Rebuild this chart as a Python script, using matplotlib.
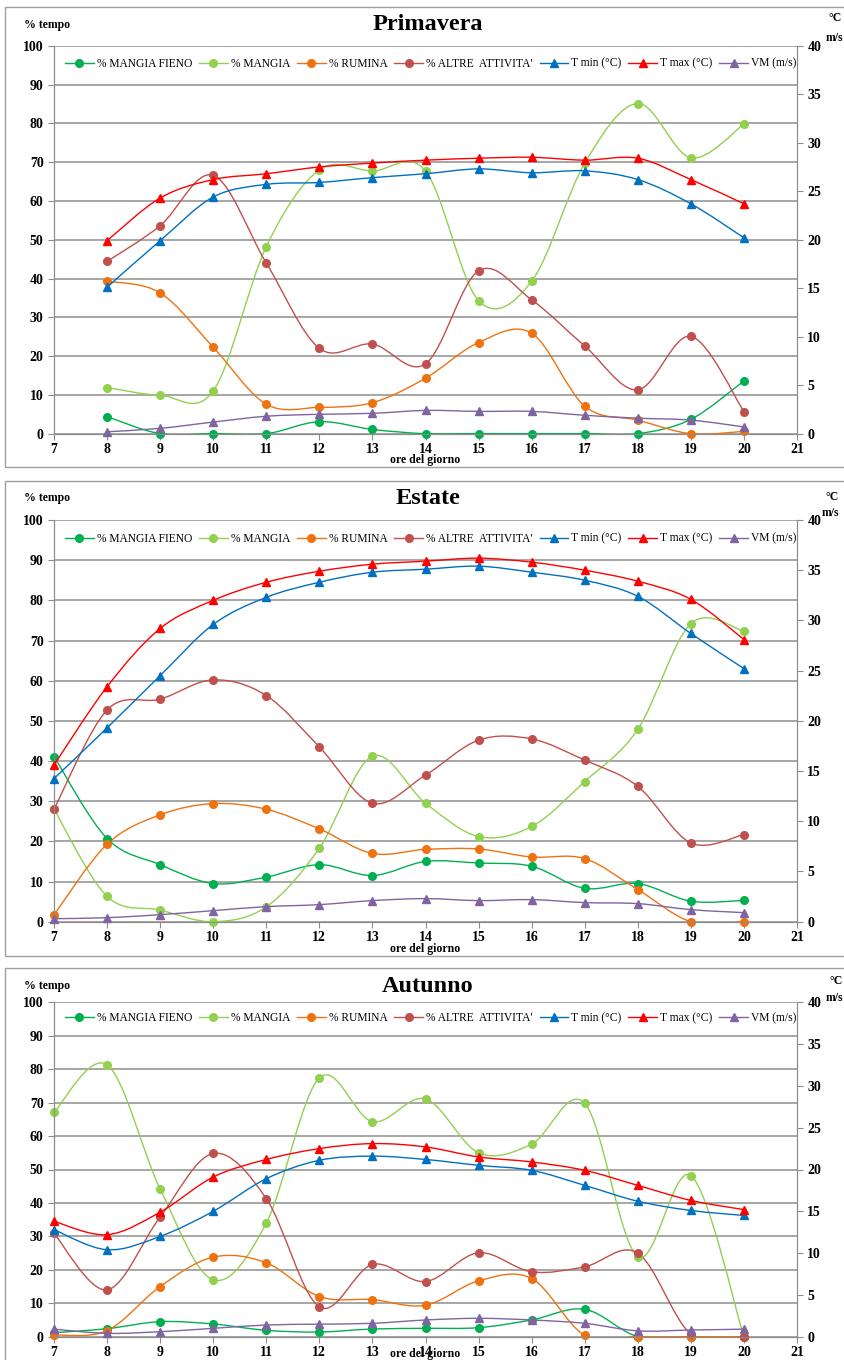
import matplotlib
matplotlib.use("Agg")
import matplotlib.pyplot as plt
from matplotlib.path import Path
from matplotlib.patches import PathPatch, Rectangle
from matplotlib.lines import Line2D
import numpy as np

plt.rcParams['font.family'] = ['Liberation Serif', 'DejaVu Serif']

# ---- data ----
labels = ["% MANGIA FIENO", "% MANGIA", "% RUMINA", "% ALTRE  ATTIVITA'",
          "T min (°C)", "T max (°C)", "VM (m/s)"]
colors = ["#00B050", "#92D050", "#EE7310", "#C0504D", "#0070C0", "#FF0000", "#8064A2"]

hours_spring = list(range(8, 21))
spring_fieno = [4.4, 0, 0, 0, 3.1, 1.1, 0, 0, 0, 0, 0, 3.7, 13.6]
spring_mangia = [11.9, 9.9, 11.0, 48.2, 68.0, 67.7, 67.7, 34.3, 39.3, 69.7, 85.1, 71.1, 79.8]
spring_rumina = [39.3, 36.3, 22.3, 7.6, 6.8, 8.0, 14.3, 23.5, 25.9, 7.1, 3.5, 0, 0.6]
spring_altre = [44.4, 53.6, 66.6, 44.0, 22.0, 23.1, 18.0, 42.0, 34.5, 22.6, 11.3, 25.1, 5.7]
spring_tmin = [15.1, 19.9, 24.4, 25.7, 25.9, 26.4, 26.8, 27.3, 26.9, 27.1, 26.2, 23.7, 20.2]
spring_tmax = [19.9, 24.3, 26.2, 26.8, 27.5, 27.9, 28.2, 28.4, 28.5, 28.2, 28.4, 26.2, 23.7]
spring_vm = [0.2, 0.55, 1.2, 1.8, 2.0, 2.1, 2.4, 2.3, 2.3, 1.9, 1.6, 1.4, 0.7]

hours_summer = list(range(7, 21))
summer_fieno = [41.1, 20.7, 14.2, 9.5, 11.1, 14.2, 11.5, 15.0, 14.6, 13.8, 8.3, 9.5, 5.1, 5.3]
summer_mangia = [28.0, 6.3, 2.9, 0, 3.7, 18.3, 41.2, 29.5, 21.2, 23.7, 34.9, 47.9, 74.2, 72.3]
summer_rumina = [1.7, 19.3, 26.6, 29.4, 28.0, 23.1, 17.0, 18.0, 18.1, 16.1, 15.7, 8.0, 0, 0]
summer_altre = [28.0, 52.7, 55.4, 60.2, 56.3, 43.5, 29.5, 36.5, 45.2, 45.5, 40.2, 33.7, 19.6, 21.7]
summer_tmin = [14.25, 19.3, 24.5, 29.6, 32.3, 33.8, 34.8, 35.1, 35.4, 34.8, 34.0, 32.4, 28.7, 25.2]
summer_tmax = [15.6, 23.4, 29.2, 32.0, 33.8, 34.9, 35.6, 35.9, 36.2, 35.8, 35.0, 33.9, 32.1, 28.1]
summer_vm = [0.3, 0.4, 0.7, 1.1, 1.5, 1.7, 2.1, 2.3, 2.1, 2.2, 1.9, 1.8, 1.2, 0.9]

hours_autumn = list(range(7, 21))
autumn_fieno = [1.2, 2.4, 4.5, 3.8, 1.9, 1.4, 2.3, 2.5, 2.7, 5.0, 8.2, 0, 0, 0]
autumn_mangia = [67.1, 81.3, 44.2, 17.0, 34.0, 77.4, 64.3, 71.1, 55.0, 57.6, 69.8, 23.9, 48.2, 0]
autumn_rumina = [0.5, 1.8, 15.0, 23.8, 22.1, 12.0, 11.1, 9.4, 16.7, 17.4, 0.4, 0, 0, 0]
autumn_altre = [30.9, 14.0, 35.8, 54.8, 41.3, 8.9, 21.6, 16.5, 25.1, 19.4, 20.9, 25.0, 0.8, 0]
autumn_tmin = [12.8, 10.4, 12.0, 15.0, 18.9, 21.1, 21.6, 21.2, 20.5, 19.9, 18.1, 16.2, 15.1, 14.5]
autumn_tmax = [13.8, 12.2, 14.9, 19.1, 21.2, 22.5, 23.1, 22.7, 21.5, 20.9, 19.9, 18.1, 16.3, 15.2]
autumn_vm = [0.9, 0.4, 0.6, 1.0, 1.4, 1.5, 1.6, 2.0, 2.2, 2.0, 1.6, 0.7, 0.8, 0.9]

W, H = 845, 1360


def fx(x):
    return x / W


def fy(y):
    return 1 - y / H


def smooth_path(xs, ys):
    # Excel style smoothed line as cubic bezier segments
    n = len(xs)
    verts = [(xs[0], ys[0])]
    codes = [Path.MOVETO]
    for i in range(n - 1):
        x0, y0 = xs[max(i - 1, 0)], ys[max(i - 1, 0)]
        x1, y1 = xs[i], ys[i]
        x2, y2 = xs[i + 1], ys[i + 1]
        x3, y3 = xs[min(i + 2, n - 1)], ys[min(i + 2, n - 1)]
        verts += [(x1 + (x2 - x0) / 6, y1 + (y2 - y0) / 6),
                  (x2 - (x3 - x1) / 6, y2 - (y3 - y1) / 6),
                  (x2, y2)]
        codes += [Path.CURVE4] * 3
    return Path(verts, codes)


def series(ax, xs, ys, color, marker):
    ax.add_patch(PathPatch(smooth_path(xs, ys), fill=False, edgecolor=color, lw=1.0, zorder=3))
    ax.plot(xs, ys, linestyle='none', marker=marker, color=color, markersize=5.5, zorder=4,
            clip_on=False)


def panel(top, bottom, title, hours, pct, temps, box, title_y, unit_pos, xlab_y):
    ax = fig.add_axes([fx(54), fy(bottom), fx(797 - 54), (bottom - top) / H])
    ax2 = ax.twinx()
    ax.set_xlim(7, 21)
    ax.set_ylim(0, 100)
    ax2.set_ylim(0, 40)
    ax.set_xticks(range(7, 22))
    ax.set_yticks(range(0, 101, 10))
    ax2.set_yticks(range(0, 41, 5))
    ax.grid(axis='y', color='#a6a6a6', lw=1.4)
    ax.set_axisbelow(True)
    for a in (ax, ax2):
        for s in a.spines.values():
            s.set_color('#8c8c8c')
        a.spines['top'].set_visible(False)
        a.tick_params(colors='#8c8c8c', labelcolor='black', length=4, labelsize=10)
        for lab in a.get_xticklabels() + a.get_yticklabels():
            lab.set_fontweight('bold')
    ax.tick_params(axis='x', pad=3)

    for ys, c in zip(pct, colors[:4]):
        series(ax, hours, ys, c, 'o')
    for ys, c in zip(temps, colors[4:]):
        series(ax2, hours, ys, c, '^')

    handles = [Line2D([], [], color=c, lw=1.0, marker='o' if i < 4 else '^', markersize=5.5)
               for i, c in enumerate(colors)]
    ax2.legend(handles, labels, loc='center', bbox_to_anchor=(0.507, 1 - (64 - 46) / 388),
               ncol=7, frameon=False, fontsize=8.3, handlelength=2.5, handletextpad=0.25,
               columnspacing=0.6)

    fig.text(fx(428), fy(title_y), title, ha='center', va='center', fontsize=17.5, fontweight='bold')
    fig.text(fx(47), fy(title_y), "% tempo", ha='center', va='center', fontsize=8.5, fontweight='bold')
    fig.text(fx(unit_pos[0]), fy(unit_pos[1]), "°C", ha='left', va='center', fontsize=8.5, fontweight='bold')
    fig.text(fx(unit_pos[2]), fy(unit_pos[3]), "m/s", ha='left', va='center', fontsize=8.5, fontweight='bold')
    fig.text(fx(425), fy(xlab_y), "ore del giorno", ha='center', va='center', fontsize=8.5,
             fontweight='bold')
    fig.patches.append(Rectangle((fx(box[0]), fy(box[2])), fx(900 - box[0]), (box[2] - box[1]) / H,
                                 transform=fig.transFigure, fill=False, edgecolor='#a0a0a0', lw=1.0))


fig = plt.figure(figsize=(W / 100, H / 100), dpi=100)

panel(45.7, 433.7, "Primavera", hours_spring,
      [spring_fieno, spring_mangia, spring_rumina, spring_altre],
      [spring_tmin, spring_tmax, spring_vm], (5, 7, 467), 25, (829, 18, 826, 38), 460)
panel(520, 921.7, "Estate", hours_summer,
      [summer_fieno, summer_mangia, summer_rumina, summer_altre],
      [summer_tmin, summer_tmax, summer_vm], (5, 481, 956), 498, (826, 497, 822, 513), 949)
panel(1002.3, 1336.7, "Autunno", hours_autumn,
      [autumn_fieno, autumn_mangia, autumn_rumina, autumn_altre],
      [autumn_tmin, autumn_tmax, autumn_vm], (5, 968, 1400), 986, (830, 981, 826, 998), 1354)

fig.savefig("out.png", dpi=100)
